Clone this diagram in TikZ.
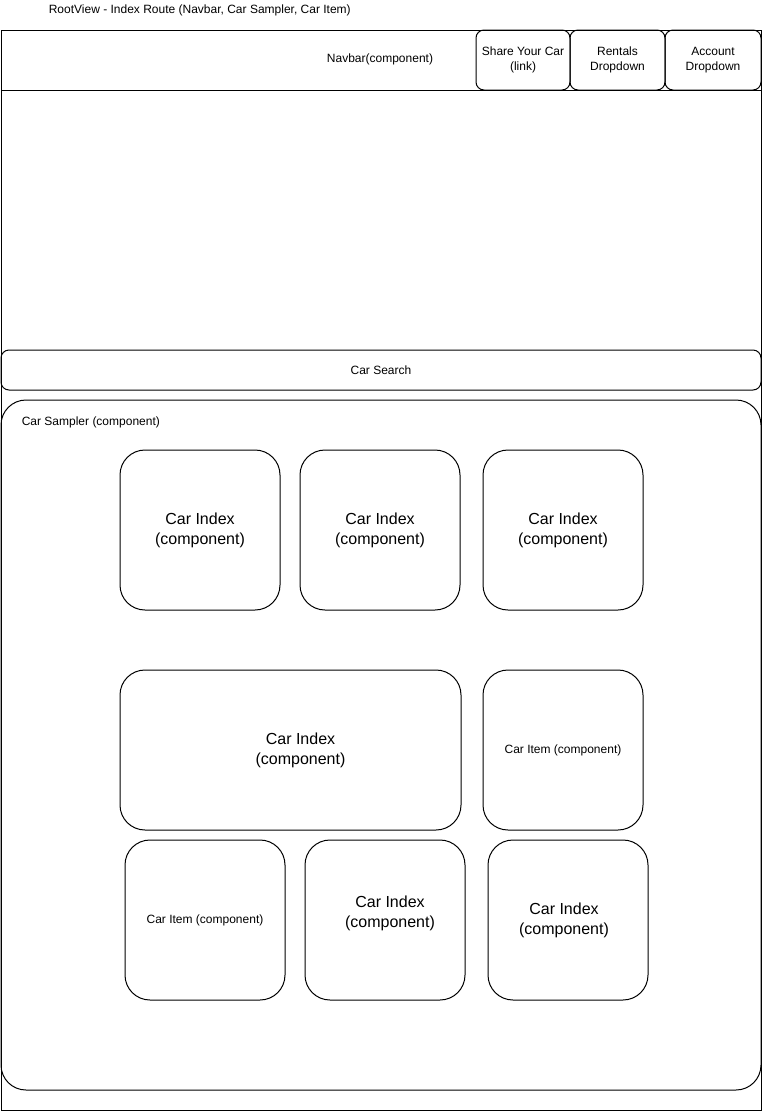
\documentclass[tikz,border=0pt]{standalone}
\usepackage{fontspec}
\setmainfont{Liberation Sans}
\usetikzlibrary{positioning}

\tikzset{
  small/.style={font=\fontsize{12}{15}\selectfont},
  big/.style={font=\fontsize{16}{20}\selectfont},
  btn/.style={draw, rounded corners=8pt, inner sep=0pt, small, align=center,
    minimum height=60pt},
  card/.style={draw, rounded corners=25pt, inner sep=0pt, big, align=center,
    minimum width=160pt, minimum height=160pt}
}

\begin{document}
\begin{tikzpicture}[x=1pt, y=-1pt, line width=1pt]

  \useasboundingbox (0,0) rectangle (762,1112);

  % Title
  \node[small, anchor=west] (title) at (45,10) {RootView - Index Route (Navbar, Car Sampler, Car Item)};

  % Root view frame
  \draw (1,30) rectangle (761,1110);

  % Navbar and its buttons
  \node[draw, small, minimum width=760pt, minimum height=60pt, inner sep=0pt] (navbar) at (381,60) {};
  \node[small] (navlabel) at (380,59) {Navbar(component)};
  \node[btn, minimum width=94pt] (share) at (523,60) {Share Your Car\\(link)};
  \node[btn, minimum width=95pt] (rentals) at (617.5,60) {Rentals\\Dropdown};
  \node[btn, minimum width=96pt] (account) at (713,60) {Account\\Dropdown};

  % Car search bar
  \node[draw, rounded corners=8pt, small, minimum width=760pt, minimum height=40pt, inner sep=0pt] (search) at (381,370) {Car Search};

  % Car sampler
  \node[draw, rounded corners=25pt, minimum width=760pt, minimum height=690pt, inner sep=0pt] (sampler) at (381,745) {};
  \node[small, anchor=west] (samplerlabel) at (18,422) {Car Sampler (component)};

  % First row of cards
  \node[card] (idxA) at (200,530) {Car Index\\(component)};
  \node[card] (idxB) at (380,530) {Car Index\\(component)};
  \node[card] (idxC) at (563,530) {Car Index\\(component)};

  % Second row (label sits right of centre)
  \node[card, minimum width=341pt,
    label={[big, align=center, xshift=10pt]center:Car Index\\(component)}] (idxD) at (290.5,750) {};
  \node[card, small] (itemA) at (563,750) {Car Item (component)};

  % Third row
  \node[card, small] (itemB) at (205,920) {Car Item (component)};
  \node[card,
    label={[big, align=center, xshift=5pt, yshift=7pt]center:Car Index\\(component)}] (idxE) at (385,920) {};
  \node[card,
    label={[big, align=center, xshift=-4pt]center:Car Index\\(component)}] (idxF) at (568,920) {};

\end{tikzpicture}
\end{document}
